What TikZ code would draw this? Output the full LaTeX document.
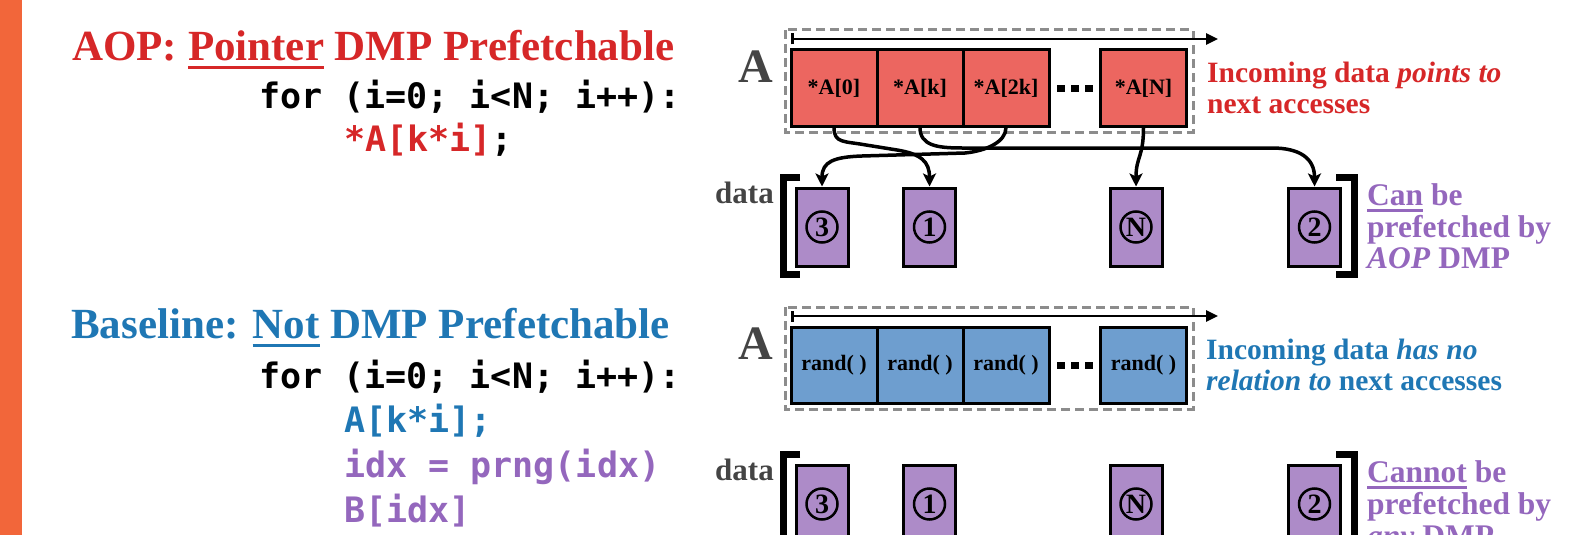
\documentclass[tikz,border=0pt]{standalone}
\usepackage{fontspec}
\setmainfont{Liberation Serif}
\setmonofont{DejaVu Sans Mono}
\usetikzlibrary{arrows.meta}

\definecolor{sidebar}{RGB}{242,102,58}
\definecolor{aopred}{RGB}{214,39,40}
\definecolor{cellred}{RGB}{236,102,96}
\definecolor{baseblue}{RGB}{31,119,180}
\definecolor{cellblue}{RGB}{110,158,207}
\definecolor{dmppurple}{RGB}{148,103,189}
\definecolor{boxpurple}{RGB}{173,139,200}
\definecolor{labelgray}{RGB}{68,68,68}
\definecolor{framegray}{RGB}{140,140,140}

% underline drawn as a rule of given depth and thickness in the current colour
\newcommand\ulbar[3]{\setbox0\hbox{#3}\rlap{\rule[-#1]{\wd0}{#2}}\box0\relax}

\begin{document}
\begin{tikzpicture}[x=1pt,y=-1pt,
  heading/.style={anchor=base west, inner sep=0pt, font=\fontsize{43}{50}\selectfont\bfseries},
  codeline/.style={anchor=base west, inner sep=0pt, font=\fontsize{35}{42}\selectfont\ttfamily\bfseries},
  sidetext/.style={anchor=base west, inner sep=0pt, font=\fontsize{29.5}{31}\selectfont\bfseries},
  dmptext/.style={anchor=base west, inner sep=0pt, text=dmppurple, font=\fontsize{31.5}{32}\selectfont\bfseries},
  arrname/.style={anchor=base west, inner sep=0pt, text=labelgray, font=\fontsize{48}{56}\selectfont\bfseries},
  dataname/.style={anchor=base west, inner sep=0pt, text=labelgray, font=\fontsize{31}{34}\selectfont\bfseries},
  cell/.style={draw, line width=3pt, minimum width=86pt, minimum height=76pt, inner sep=0pt,
               font=\fontsize{22}{26}\selectfont\bfseries},
  redcell/.style={cell, fill=cellred},
  bluecell/.style={cell, fill=cellblue},
  databox/.style={draw, line width=3pt, fill=boxpurple, minimum width=52pt, minimum height=78pt, inner sep=0pt},
  num/.style={circle, draw, line width=2.5pt, minimum size=31pt, inner sep=0pt,
              font=\fontsize{28}{30}\selectfont\bfseries},
  frame/.style={draw=framegray, line width=3pt, dash pattern=on 9pt off 5pt},
  order/.style={line width=2.5pt, {Bar[width=11pt]}-{Triangle[length=12pt,width=11pt]}},
  bracket/.style={line width=7pt, line join=miter},
  conn/.style={line width=3.5pt, -{Stealth[length=13pt,width=13pt,inset=3pt]}}
]
\useasboundingbox (0,0) rectangle (1571,535);
\clip (0,0) rectangle (1571,535);

% side bar
\fill[sidebar] (0,0) rectangle (22,535);

% ---------- AOP: pointer access ----------
\node[heading, text=aopred] (h1) at (72,60) {AOP: \ulbar{9pt}{3.5pt}{Pointer} DMP Prefetchable};
\node[codeline] (c1) at (259,108) {for (i=0; i<N; i++):};
\node[codeline] (c2) at (344,151) {\textcolor{aopred}{*A[k*i]};};

\draw[frame] (785,30) rectangle (1193,132);
\draw[order] (791,39) -- (1218,39);
\node[arrname] (A1) at (738,82) {A};
\node[redcell] (a0)  at (834,88)    {*A[0]};
\node[redcell] (ak)  at (920,88)    {*A[k]};
\node[redcell] (a2k) at (1006,88)   {*A[2k]};
\node[redcell] (aN)  at (1143.5,88) {*A[N]};
\foreach \x in {1057,1071,1085} \fill (\x,84.5) rectangle +(8,7);

\node[sidetext, text=aopred] (t1) at (1207,82) {Incoming data \textit{points to}};
\node[sidetext, text=aopred] (t2) at (1207,113) {next accesses};

\node[dataname] (dl1) at (715,203) {data};
\draw[bracket] (800,177.5) -- (783,177.5) -- (783,274.5) -- (800,274.5);
\draw[bracket] (1336,177.5) -- (1354.5,177.5) -- (1354.5,274.5) -- (1336,274.5);

\node[databox] (d3) at (822,227)    {};
\node[databox] (d1) at (929.5,227)  {};
\node[databox] (dN) at (1136,227)   {};
\node[databox] (d2) at (1314.5,227) {};
\node[num] at (d3) {3};
\node[num] at (d1) {1};
\node[num] at (dN) {N};
\node[num] at (d2) {2};

\draw[conn] (a2k.south) .. controls +(0,15) and +(20,-2) .. (965,153) -- (862,156)
            .. controls +(-28,1) and +(0,-25) .. (d3.north);
\draw[conn] (a0.south) .. controls +(0,16) and +(-22,-4) .. (866,145) -- (897,150)
            .. controls +(24,4) and +(0,-25) .. (d1.north);
\draw[conn] (ak.south) .. controls +(0,18) and +(-25,0) .. (962,148) -- (1272,148)
            .. controls +(28,0) and +(0,-28) .. (d2.north);
\draw[conn] (aN.south) .. controls +(0,30) and +(0,-30) .. (dN.north);

\node[dmptext] (p1) at (1367,205) {\ulbar{7pt}{3pt}{Can} be};
\node[dmptext] (p2) at (1367,237) {prefetched by};
\node[dmptext] (p3) at (1367,268) {\textit{AOP} DMP};

% ---------- Baseline: random access ----------
\node[heading, text=baseblue] (h2) at (71,338) {Baseline: \ulbar{9pt}{3.5pt}{Not} DMP Prefetchable};
\node[codeline] (b1) at (259,388) {for (i=0; i<N; i++):};
\node[codeline, text=baseblue] (b2) at (344,432) {A[k*i];};
\node[codeline, text=dmppurple] (b3) at (344,477) {idx = prng(idx)};
\node[codeline, text=dmppurple] (b4) at (344,522) {B[idx]};

\draw[frame] (785,307) rectangle (1193,409);
\draw[order] (791,316) -- (1218,316);
\node[arrname] (A2) at (738,359) {A};
\node[bluecell] (r0) at (834,365)    {rand( )};
\node[bluecell] (r1) at (920,365)    {rand( )};
\node[bluecell] (r2) at (1006,365)   {rand( )};
\node[bluecell] (rN) at (1143.5,365) {rand( )};
\foreach \x in {1057,1071,1085} \fill (\x,361.5) rectangle +(8,7);

\node[sidetext, text=baseblue] (u1) at (1206,359) {Incoming data \textit{has no}};
\node[sidetext, text=baseblue] (u2) at (1206,390) {\textit{relation to} next accesses};

\node[dataname] (dl2) at (715,480) {data};
\draw[bracket] (800,454.5) -- (783,454.5) -- (783,560);
\draw[bracket] (1336,454.5) -- (1354.5,454.5) -- (1354.5,560);

\node[databox] (e3) at (822,504)    {};
\node[databox] (e1) at (929.5,504)  {};
\node[databox] (eN) at (1136,504)   {};
\node[databox] (e2) at (1314.5,504) {};
\node[num] at (e3) {3};
\node[num] at (e1) {1};
\node[num] at (eN) {N};
\node[num] at (e2) {2};

\node[dmptext] (q1) at (1367,482) {\ulbar{7pt}{3pt}{Cannot} be};
\node[dmptext] (q2) at (1367,514) {prefetched by};
\node[dmptext] (q3) at (1367,546) {\textit{any} DMP};
\end{tikzpicture}
\end{document}
